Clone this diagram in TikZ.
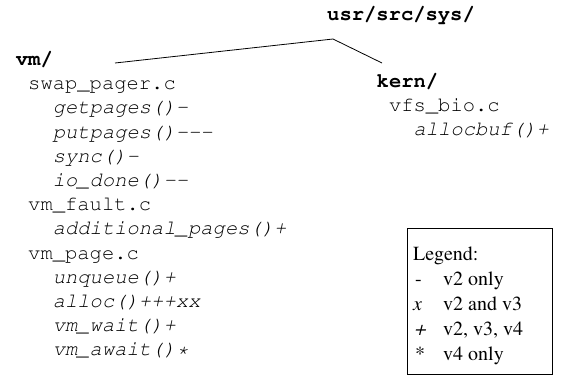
\documentclass[tikz,border=0pt]{standalone}
\usepackage[T1]{fontenc}
\usepackage{mathptmx}
\usepackage{courier}
\usepackage{tikz}

\begin{document}
\begin{tikzpicture}[x=1pt, y=-1pt,
  every node/.style={inner sep=0pt, anchor=base west, font=\fontsize{20.5}{24}\selectfont\ttfamily},
  dirname/.style={font=\fontsize{20.5}{24}\selectfont\ttfamily\bfseries},
  func/.style={font=\fontsize{20.5}{24}\selectfont\ttfamily\itshape},
  legtext/.style={font=\fontsize{20}{24}\selectfont\rmfamily}]
  \useasboundingbox (0,0) rectangle (561,376);
  % root and links
  \node[dirname] (usr) at (327,20) {usr/src/sys/};
  \coordinate (fork) at (333,39);
  \coordinate (vmtip) at (115,63);
  \coordinate (kerntip) at (382,63);
  \draw[line width=0.8pt] (fork) -- (vmtip);
  \draw[line width=0.8pt] (fork) -- (kerntip);
  % vm tree
  \node[dirname] (vm) at (15.7,65.5) {vm/};
  \node (swap) at (28,89.7) {swap\_pager.c};
  \node[func] (getpages) at (52.6,113.9) {getpages()-};
  \node[func] (putpages) at (52.6,138.1) {putpages()-{}-{}-};
  \node[func] (sync) at (52.6,162.3) {sync()-};
  \node[func] (iodone) at (52.6,186.5) {io\_done()-{}-};
  \node (fault) at (28,210.7) {vm\_fault.c};
  \node[func] (addpages) at (52.6,234.9) {additional\_pages()+};
  \node (page) at (28,259.1) {vm\_page.c};
  \node[func] (unqueue) at (52.6,283.3) {unqueue()+};
  \node[func] (alloc) at (52.6,307.5) {alloc()+++xx};
  \node[func] (wait) at (52.6,331.7) {vm\_wait()+};
  \node[func] (await) at (52.6,355.9) {vm\_await()*};
  % kern tree
  \node[dirname] (kern) at (376.5,87) {kern/};
  \node (vfsbio) at (388.8,111.2) {vfs\_bio.c};
  \node[func] (allocbuf) at (413.4,135.4) {allocbuf()+};
  % legend
  \draw[line width=0.8pt] (407,228) rectangle (552,374);
  \node[legtext] (legtitle) at (413,260) {Legend:};
  \node[legtext] (symone) at (415,285) {-};
  \node[legtext] (txtone) at (443,285) {v2 only};
  \node[legtext] (symtwo) at (413,310) {\itshape x};
  \node[legtext] (txttwo) at (443,310) {v2 and v3};
  \node[legtext, xslant=0.25, transform shape] (symthree) at (414,335) {+};
  \node[legtext] (txtthree) at (443,335) {v2, v3, v4};
  \node[legtext] (symfour) at (415,360) {*};
  \node[legtext] (txtfour) at (443,360) {v4 only};
\end{tikzpicture}
\end{document}
